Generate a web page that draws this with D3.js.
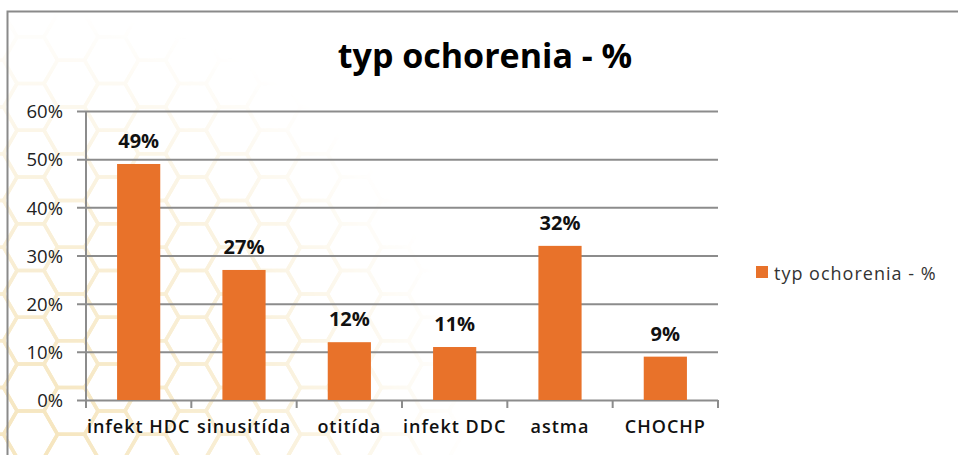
<!DOCTYPE html>
<meta charset="utf-8" />
<script src="https://d3js.org/d3.v7.min.js"></script>
<style>
  body { margin: 0; background: #fff; }
  text { font-family: "Open Sans", "Noto Sans", sans-serif; }
</style>
<body>
  <div id="my_dataviz"></div>
  <script>
    // data
    var categories = ["infekt HDC", "sinusitída", "otitída", "infekt DDC", "astma", "CHOCHP"];
    var values = [0.49, 0.27, 0.12, 0.11, 0.32, 0.09];
    var yTicks = [0, 0.1, 0.2, 0.3, 0.4, 0.5, 0.6];
    var seriesName = "typ ochorenia - %";
    var title = "typ ochorenia - %";

    var W = 958, H = 455;
    var orange = "#e8722a";
    var gridColor = "#8c8c8c";

    var svg = d3.select("#my_dataviz")
      .append("svg")
      .attr("width", W)
      .attr("height", H);

    // faint honeycomb background, fading out to the right and top
    var defs = svg.append("defs");
    var grad = defs.append("radialGradient")
      .attr("id", "fade")
      .attr("gradientUnits", "userSpaceOnUse")
      .attr("cx", 40).attr("cy", 440).attr("r", 430);
    grad.append("stop").attr("offset", "0").attr("stop-color", "#fff").attr("stop-opacity", 0.8);
    grad.append("stop").attr("offset", "0.55").attr("stop-color", "#fff").attr("stop-opacity", 0.45);
    grad.append("stop").attr("offset", "1").attr("stop-color", "#fff").attr("stop-opacity", 0);
    defs.append("mask").attr("id", "hexmask")
      .append("rect").attr("width", W).attr("height", H).attr("fill", "url(#fade)");

    var r = 27, hexes = [];
    for (var c = 0; c < 14; c++) {
      for (var k = 0; k < 12; k++) {
        hexes.push([c * 1.5 * r - 10, k * Math.sqrt(3) * r + (c % 2 ? Math.sqrt(3) * r / 2 : 0) - 10]);
      }
    }
    function hexPath(p) {
      var pts = d3.range(6).map(function (i) {
        var a = Math.PI / 3 * i;
        return [p[0] + r * Math.cos(a), p[1] + r * Math.sin(a)];
      });
      return "M" + pts.join("L") + "Z";
    }
    svg.append("g")
      .attr("mask", "url(#hexmask)")
      .selectAll("path")
      .data(hexes)
      .enter()
      .append("path")
      .attr("d", hexPath)
      .attr("fill", "none")
      .attr("stroke", "#f3dfae")
      .attr("stroke-width", 3.5);

    // chart frame (runs off the right and bottom edges)
    svg.append("rect")
      .attr("x", 7.5).attr("y", 11.5)
      .attr("width", 1000).attr("height", 600)
      .attr("fill", "none")
      .attr("stroke", "#8a8a8a")
      .attr("stroke-width", 2);

    // title
    svg.append("text")
      .attr("x", 485)
      .attr("y", 68)
      .attr("text-anchor", "middle")
      .style("font-size", "34px")
      .style("font-weight", "bold")
      .attr("fill", "#000")
      .text(title);

    var plotLeft = 86, plotRight = 718, plotTop = 111, plotBottom = 400;

    var x = d3.scaleBand()
      .domain(categories)
      .range([plotLeft, plotRight])
      .paddingInner(0.59)
      .paddingOuter(0.295);

    var y = d3.scaleLinear().domain([0, 0.6]).range([plotBottom, plotTop]);

    // gridlines + y axis labels
    var yAxis = svg.append("g")
      .attr("transform", "translate(" + plotLeft + ",0)")
      .call(d3.axisLeft(y).tickValues(yTicks).tickFormat(d3.format(".0%"))
        .tickSizeInner(-(plotRight - plotLeft)).tickSizeOuter(0).tickPadding(22));
    yAxis.select(".domain").remove();
    yAxis.selectAll(".tick line")
      .attr("x1", -9)
      .attr("stroke", gridColor)
      .attr("stroke-width", 2);
    yAxis.selectAll(".tick text")
      .attr("x", -23)
      .attr("dy", "0.36em")
      .attr("fill", "#222")
      .style("font-size", "18.5px");

    // vertical axis line
    svg.append("line")
      .attr("x1", plotLeft).attr("x2", plotLeft)
      .attr("y1", plotTop).attr("y2", plotBottom + 8)
      .attr("stroke", gridColor)
      .attr("stroke-width", 2);

    // category boundary ticks
    var step = x.step();
    svg.append("g")
      .selectAll("line")
      .data(categories)
      .enter()
      .append("line")
      .attr("x1", function (d) { return x(d) + x.bandwidth() + step * x.paddingInner() / 2; })
      .attr("x2", function (d) { return x(d) + x.bandwidth() + step * x.paddingInner() / 2; })
      .attr("y1", plotBottom)
      .attr("y2", plotBottom + 8)
      .attr("stroke", gridColor)
      .attr("stroke-width", 2);

    // x labels
    var xAxis = svg.append("g")
      .attr("transform", "translate(0," + plotBottom + ")")
      .call(d3.axisBottom(x).tickSize(0).tickPadding(20));
    xAxis.select(".domain").remove();
    xAxis.selectAll(".tick text")
      .attr("fill", "#111")
      .style("font-size", "18px")
      .style("font-weight", "600")
      .style("letter-spacing", "1px");

    // bars
    svg.append("g")
      .selectAll("rect")
      .data(values)
      .enter()
      .append("rect")
      .attr("x", function (d, i) { return x(categories[i]); })
      .attr("y", function (d) { return y(d); })
      .attr("width", x.bandwidth())
      .attr("height", function (d) { return plotBottom - y(d); })
      .attr("fill", orange);

    // data labels
    svg.append("g")
      .selectAll("text")
      .data(values)
      .enter()
      .append("text")
      .attr("x", function (d, i) { return x(categories[i]) + x.bandwidth() / 2; })
      .attr("y", function (d) { return y(d) - 16; })
      .attr("text-anchor", "middle")
      .attr("fill", "#111")
      .style("font-size", "20px")
      .style("font-weight", "bold")
      .text(function (d) { return d3.format(".0%")(d); });

    // legend
    svg.append("rect")
      .attr("x", 756).attr("y", 266)
      .attr("width", 12).attr("height", 12)
      .attr("fill", orange);
    svg.append("text")
      .attr("x", 774).attr("y", 280)
      .attr("fill", "#333")
      .style("font-size", "18px")
      .style("letter-spacing", "1px")
      .text(seriesName);
  </script>
</body>
